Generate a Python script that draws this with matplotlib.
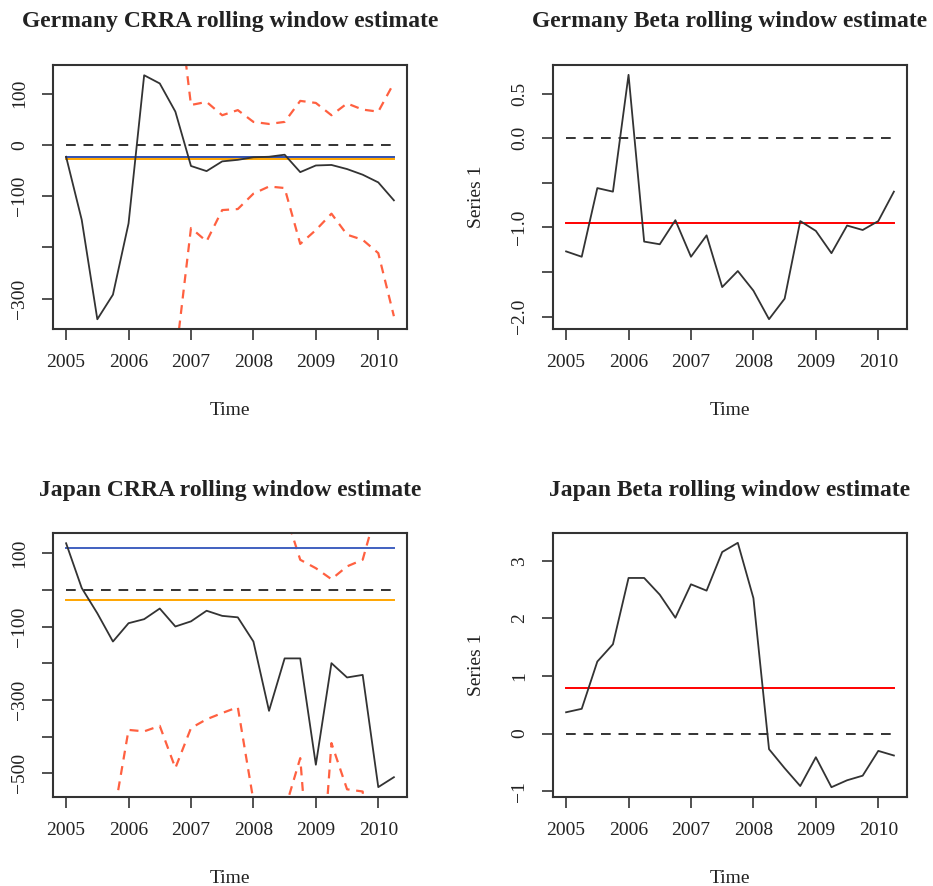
import numpy as np
import matplotlib
matplotlib.use("Agg")
import matplotlib.pyplot as plt

plt.rcParams['font.family'] = ['Liberation Serif', 'DejaVu Serif']

# quarterly time index 2005Q1 .. 2010Q2
time = 2005 + 0.25 * np.arange(22)

# Germany CRRA
de_crra = [-23, -146, -340, -292, -153, 136, 120, 65, -41, -51, -32, -29, -24, -23,
           -19, -53, -40, -39, -47, -58, -73, -108]
de_crra_up = [np.nan] * 7 + [330, 78, 84, 58, 68, 45, 41, 45, 86, 82, 58, 81, 69, 65, 121]
de_crra_lo = [np.nan] * 7 + [-420, -162, -188, -127, -125, -95, -81, -84, -193, -166,
                             -134, -175, -185, -211, -334]
de_crra_blue = -23
de_crra_orange = -27

# Germany Beta
de_beta = [-1.27, -1.33, -0.56, -0.60, 0.71, -1.16, -1.19, -0.92, -1.33, -1.09, -1.67,
           -1.49, -1.71, -2.03, -1.80, -0.93, -1.04, -1.29, -0.98, -1.03, -0.93, -0.60]
de_beta_red = -0.95

# Japan CRRA
jp_crra = [127, 5, -64, -141, -91, -80, -51, -100, -86, -57, -71, -75, -141, -330,
           -187, -187, -477, -200, -239, -232, -538, -511]
jp_crra_up = [np.nan] * 14 + [215, 82, 59, 29, 64, 82, 233, np.nan]
jp_crra_lo = [np.nan] * 3 + [-630, -382, -386, -371, -486, -377, -353, -336, -320,
                             -575, -1000, -602, -459, -1000, -418, -544, -550, -1000,
                             np.nan]
jp_crra_blue = 115
jp_crra_orange = -27

# Japan Beta
jp_beta = [0.37, 0.43, 1.25, 1.55, 2.70, 2.70, 2.41, 2.01, 2.59, 2.48, 3.15, 3.31, 2.35,
           -0.27, -0.60, -0.91, -0.41, -0.93, -0.81, -0.73, -0.30, -0.38]
jp_beta_red = 0.79

titles = ["Germany CRRA rolling window estimate", "Germany Beta rolling window estimate",
          "Japan CRRA rolling window estimate", "Japan Beta rolling window estimate"]
year_ticks = [2005, 2006, 2007, 2008, 2009, 2010]

W, H = 933, 886
fig = plt.figure(figsize=(W / 100, H / 100), dpi=100)

def px_axes(x0, y0, x1, y1):
    return fig.add_axes([x0 / W, 1 - y1 / H, (x1 - x0) / W, (y1 - y0) / H])

LINE = '#333333'
BOUND = '#ff6040'

def style(ax, yticks, ylabels, ylim, title, ylab=None):
    ax.set_xlim(2004.79, 2010.46)
    ax.set_ylim(*ylim)
    ax.set_xticks(year_ticks)
    ax.set_xticklabels([str(y) for y in year_ticks])
    ax.set_yticks(yticks)
    ax.set_yticklabels(ylabels, rotation=90, va='center')
    ax.tick_params(direction='out', length=8, width=1.2, color=LINE,
                   labelsize=14, pad=10, labelcolor='#222222')
    for s in ax.spines.values():
        s.set_linewidth(1.5)
        s.set_color(LINE)
    ax.set_xlabel("Time", fontsize=14, labelpad=22, color='#222222')
    if ylab:
        ax.set_ylabel(ylab, fontsize=14, labelpad=19, color='#222222')
    ax.set_title(title, fontsize=17, fontweight='bold', pad=27, color='#222222')

# Panel 1
ax1 = px_axes(53, 65, 407, 329)
ax1.plot(time, de_crra_up, color=BOUND, lw=1.6, dashes=(4, 3))
ax1.plot(time, de_crra_lo, color=BOUND, lw=1.6, dashes=(4, 3))
ax1.plot([time[0], time[-1]], [0, 0], color=LINE, lw=1.4, dashes=(5, 4))
ax1.plot([time[0], time[-1]], [de_crra_blue] * 2, color='#3050b0', lw=1.4)
ax1.plot([time[0], time[-1]], [de_crra_orange] * 2, color='#ffa500', lw=1.4)
ax1.plot(time, de_crra, color=LINE, lw=1.3)
style(ax1, [100, 0, -100, -200, -300], ['100', '0', '\u2212100', '', '\u2212300'],
      (-359, 156), titles[0])

# Panel 2
ax2 = px_axes(553, 65, 907, 329)
ax2.plot([time[0], time[-1]], [0, 0], color=LINE, lw=1.4, dashes=(5, 4))
ax2.plot([time[0], time[-1]], [de_beta_red] * 2, color='red', lw=1.4)
ax2.plot(time, de_beta, color=LINE, lw=1.3)
style(ax2, [0.5, 0.0, -0.5, -1.0, -1.5, -2.0],
      ['0.5', '0.0', '', '\u22121.0', '', '\u22122.0'], (-2.14, 0.82), titles[1],
      ylab="Series 1")

# Panel 3
ax3 = px_axes(53, 533, 407, 797)
ax3.plot(time, jp_crra_up, color=BOUND, lw=1.6, dashes=(4, 3))
ax3.plot(time, jp_crra_lo, color=BOUND, lw=1.6, dashes=(4, 3))
ax3.plot([time[0], time[-1]], [0, 0], color=LINE, lw=1.4, dashes=(5, 4))
ax3.plot([time[0], time[-1]], [jp_crra_blue] * 2, color='#4060c0', lw=1.4)
ax3.plot([time[0], time[-1]], [jp_crra_orange] * 2, color='#ffa500', lw=1.4)
ax3.plot(time, jp_crra, color=LINE, lw=1.3)
style(ax3, [100, 0, -100, -200, -300, -400, -500],
      ['100', '', '\u2212100', '', '\u2212300', '', '\u2212500'], (-565, 155), titles[2])

# Panel 4
ax4 = px_axes(553, 533, 907, 797)
ax4.plot([time[0], time[-1]], [0, 0], color=LINE, lw=1.4, dashes=(5, 4))
ax4.plot([time[0], time[-1]], [jp_beta_red] * 2, color='red', lw=1.4)
ax4.plot(time, jp_beta, color=LINE, lw=1.3)
style(ax4, [3, 2, 1, 0, -1], ['3', '2', '1', '0', '\u22121'], (-1.10, 3.48), titles[3],
      ylab="Series 1")

fig.savefig("out.png", dpi=100, facecolor='white')
